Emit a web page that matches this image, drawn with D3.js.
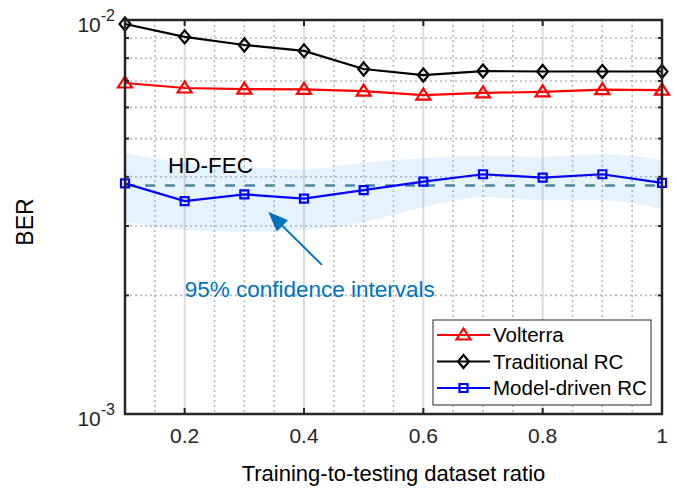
<!DOCTYPE html>
<html>
<head>
<meta charset="utf-8">
<script src="https://cdn.jsdelivr.net/npm/d3@7"></script>
<style>
  html, body { margin: 0; padding: 0; background: #fff; }
  svg { display: block; font-family: "Liberation Sans", Arial, Helvetica, sans-serif; }
</style>
</head>
<body>
<svg id="chart" width="677" height="491"></svg>
<script>
// Training-to-testing ratio on the x axis
const ratios = [0.1, 0.2, 0.3, 0.4, 0.5, 0.6, 0.7, 0.8, 0.9, 1.0];

// BER of each equaliser
const volterra     = [6.92e-3, 6.72e-3, 6.68e-3, 6.67e-3, 6.60e-3, 6.45e-3, 6.53e-3, 6.57e-3, 6.66e-3, 6.64e-3];
const traditional  = [9.77e-3, 9.06e-3, 8.64e-3, 8.35e-3, 7.51e-3, 7.25e-3, 7.42e-3, 7.40e-3, 7.40e-3, 7.40e-3];
const modelDriven  = [3.85e-3, 3.47e-3, 3.61e-3, 3.52e-3, 3.70e-3, 3.89e-3, 4.06e-3, 3.98e-3, 4.06e-3, 3.86e-3];

// 95% confidence band around the model-driven RC
const ciUpper = [4.60e-3, 4.34e-3, 4.23e-3, 4.18e-3, 4.34e-3, 4.46e-3, 4.52e-3, 4.49e-3, 4.57e-3, 4.41e-3];
const ciLower = [3.07e-3, 2.93e-3, 2.90e-3, 2.93e-3, 3.07e-3, 3.35e-3, 3.55e-3, 3.49e-3, 3.49e-3, 3.31e-3];

// Hard-decision FEC threshold
const hdFec = 3.8e-3;

// Axis ticks
const xMajorTicks = [0.2, 0.4, 0.6, 0.8, 1.0];
const xMinorTicks = [0.15, 0.25, 0.3, 0.35, 0.45, 0.5, 0.55, 0.65, 0.7, 0.75, 0.85, 0.9, 0.95];
const xTickLabels = ["0.2", "0.4", "0.6", "0.8", "1"];
const yMajorTicks = [1e-3, 1e-2];
const yTickExponents = ["-3", "-2"];
const yMinorTicks = [2e-3, 3e-3, 4e-3, 5e-3, 6e-3, 7e-3, 8e-3, 9e-3];

const seriesNames = ["Volterra", "Traditional RC", "Model-driven RC"];

const svg = d3.select("#chart");
const L = 125, R = 662, T = 20, B = 414;

const x = d3.scaleLinear().domain([0.1, 1]).range([L, R]);
const y = d3.scaleLog().domain([1e-3, 1e-2]).range([B, T]);

const axisColor = "#262626";
const blueNote = "#0072BD";

// Background
svg.append("rect").attr("x", L).attr("y", T).attr("width", R - L).attr("height", B - T).attr("fill", "#fff");

// Clip for plot contents
svg.append("defs").append("clipPath").attr("id", "plotClip")
  .append("rect").attr("x", L).attr("y", T).attr("width", R - L).attr("height", B - T);

const grid = svg.append("g");
// Major vertical grid (solid light)
grid.selectAll("line.xmaj").data(xMajorTicks).join("line")
  .attr("x1", d => x(d)).attr("x2", d => x(d)).attr("y1", T).attr("y2", B)
  .attr("stroke", "#dcdcdc").attr("stroke-width", 2);
// Minor vertical grid (dotted)
grid.selectAll("line.xmin").data(xMinorTicks).join("line")
  .attr("x1", d => x(d)).attr("x2", d => x(d)).attr("y1", T).attr("y2", B)
  .attr("stroke", "#b8b8b8").attr("stroke-width", 1.6).attr("stroke-dasharray", "2,3");
// Minor horizontal grid (dotted)
grid.selectAll("line.ymin").data(yMinorTicks).join("line")
  .attr("x1", L).attr("x2", R).attr("y1", d => y(d)).attr("y2", d => y(d))
  .attr("stroke", "#b8b8b8").attr("stroke-width", 1.6).attr("stroke-dasharray", "2,3");

const plot = svg.append("g").attr("clip-path", "url(#plotClip)");

// Confidence band
const bandData = ratios.map((r, i) => ({ r, lo: ciLower[i], hi: ciUpper[i] }));
plot.append("path")
  .datum(bandData)
  .attr("d", d3.area().x(d => x(d.r)).y0(d => y(d.lo)).y1(d => y(d.hi)).curve(d3.curveMonotoneX))
  .attr("fill", "#5aa9f0").attr("fill-opacity", 0.15);

// HD-FEC threshold
plot.append("line")
  .attr("x1", x(0.1)).attr("x2", x(1)).attr("y1", y(hdFec)).attr("y2", y(hdFec))
  .attr("stroke", "#4a8a9c").attr("stroke-width", 2.5).attr("stroke-dasharray", "10,10");

// Series lines and markers
const line = d3.line().x(d => x(d[0])).y(d => y(d[1]));
const series = [
  { name: seriesNames[0], values: volterra,    color: "#ff0000", marker: "triangle" },
  { name: seriesNames[1], values: traditional, color: "#000000", marker: "diamond" },
  { name: seriesNames[2], values: modelDriven, color: "#0000ff", marker: "square" }
];

function markerPath(type) {
  if (type === "triangle") return "M0,-6.5 L7,4.5 L-7,4.5 Z";
  if (type === "diamond") return "M0,-6.5 L5.5,0 L0,6.5 L-5.5,0 Z";
  return "M-4,-4 L4,-4 L4,4 L-4,4 Z";
}

const marks = svg.append("g");
series.forEach(s => {
  const pts = ratios.map((r, i) => [r, s.values[i]]);
  marks.append("path").datum(pts).attr("d", line)
    .attr("fill", "none").attr("stroke", s.color).attr("stroke-width", 2.2);
  marks.selectAll(null).data(pts).join("path")
    .attr("transform", d => `translate(${x(d[0])},${y(d[1])})`)
    .attr("d", markerPath(s.marker))
    .attr("fill", "none").attr("stroke", s.color).attr("stroke-width", 2.2);
});

// Annotations
svg.append("text").attr("x", x(0.172)).attr("y", y(4.09e-3))
  .attr("font-size", 22.5).attr("fill", "#000").text("HD-FEC");

const tail = [x(0.43), y(2.39e-3)];
const tip = [x(0.34), y(3.26e-3)];
const ang = Math.atan2(tip[1] - tail[1], tip[0] - tail[0]);
const headLen = 20, headHalf = 8;
const base = [tip[0] - headLen * Math.cos(ang), tip[1] - headLen * Math.sin(ang)];
svg.append("line").attr("x1", tail[0]).attr("y1", tail[1]).attr("x2", base[0]).attr("y2", base[1])
  .attr("stroke", blueNote).attr("stroke-width", 2);
svg.append("path")
  .attr("d", `M${tip[0]},${tip[1]} L${base[0] + headHalf * Math.sin(ang)},${base[1] - headHalf * Math.cos(ang)} L${base[0] - headHalf * Math.sin(ang)},${base[1] + headHalf * Math.cos(ang)} Z`)
  .attr("fill", blueNote);

svg.append("text").attr("x", x(0.2)).attr("y", y(1.98e-3))
  .attr("font-size", 22.5).attr("fill", blueNote).text("95% confidence intervals");

// Axes box
const axes = svg.append("g");
axes.append("rect").attr("x", L).attr("y", T).attr("width", R - L).attr("height", B - T)
  .attr("fill", "none").attr("stroke", axisColor).attr("stroke-width", 2.5);

// x major ticks (bottom and top, inward)
axes.selectAll("line.xtb").data(xMajorTicks).join("line")
  .attr("x1", d => x(d)).attr("x2", d => x(d)).attr("y1", B).attr("y2", B - 6)
  .attr("stroke", axisColor).attr("stroke-width", 2);
axes.selectAll("line.xtt").data(xMajorTicks).join("line")
  .attr("x1", d => x(d)).attr("x2", d => x(d)).attr("y1", T).attr("y2", T + 6)
  .attr("stroke", axisColor).attr("stroke-width", 2);
// y minor ticks (left and right, inward)
axes.selectAll("line.ytl").data(yMinorTicks).join("line")
  .attr("x1", L).attr("x2", L + 4).attr("y1", d => y(d)).attr("y2", d => y(d))
  .attr("stroke", axisColor).attr("stroke-width", 2);
axes.selectAll("line.ytr").data(yMinorTicks).join("line")
  .attr("x1", R).attr("x2", R - 4).attr("y1", d => y(d)).attr("y2", d => y(d))
  .attr("stroke", axisColor).attr("stroke-width", 2);

// x tick labels
axes.selectAll("text.xl").data(xMajorTicks).join("text")
  .attr("x", d => x(d)).attr("y", B + 29)
  .attr("text-anchor", "middle").attr("font-size", 21).attr("fill", axisColor)
  .text((d, i) => xTickLabels[i]);

// y tick labels as powers of ten
yMajorTicks.forEach((v, i) => {
  const t = axes.append("text").attr("x", L - 10).attr("y", y(v) + 12)
    .attr("text-anchor", "end").attr("font-size", 21).attr("fill", axisColor);
  t.append("tspan").text("10");
  t.append("tspan").attr("dy", -11).attr("font-size", 16).text(yTickExponents[i]);
});

// Axis titles
svg.append("text").attr("x", (L + R) / 2).attr("y", 481)
  .attr("text-anchor", "middle").attr("font-size", 22).attr("fill", "#000")
  .text("Training-to-testing dataset ratio");
svg.append("text").attr("transform", `translate(33,222) rotate(-90)`)
  .attr("text-anchor", "middle").attr("font-size", 23).attr("fill", "#000")
  .text("BER");

// Legend
const lg = svg.append("g").attr("transform", "translate(433,320)");
lg.append("rect").attr("width", 218).attr("height", 85)
  .attr("fill", "#fff").attr("stroke", axisColor).attr("stroke-width", 1);
series.forEach((s, i) => {
  const cy = 15 + i * 26.5;
  lg.append("line").attr("x1", 4).attr("x2", 57).attr("y1", cy).attr("y2", cy)
    .attr("stroke", s.color).attr("stroke-width", 2.2);
  lg.append("path").attr("transform", `translate(30.5,${cy})`).attr("d", markerPath(s.marker))
    .attr("fill", "none").attr("stroke", s.color).attr("stroke-width", 2.2);
  lg.append("text").attr("x", 60).attr("y", cy).attr("dy", "0.36em")
    .attr("font-size", 20.5).attr("fill", "#000").text(s.name);
});
</script>
</body>
</html>
